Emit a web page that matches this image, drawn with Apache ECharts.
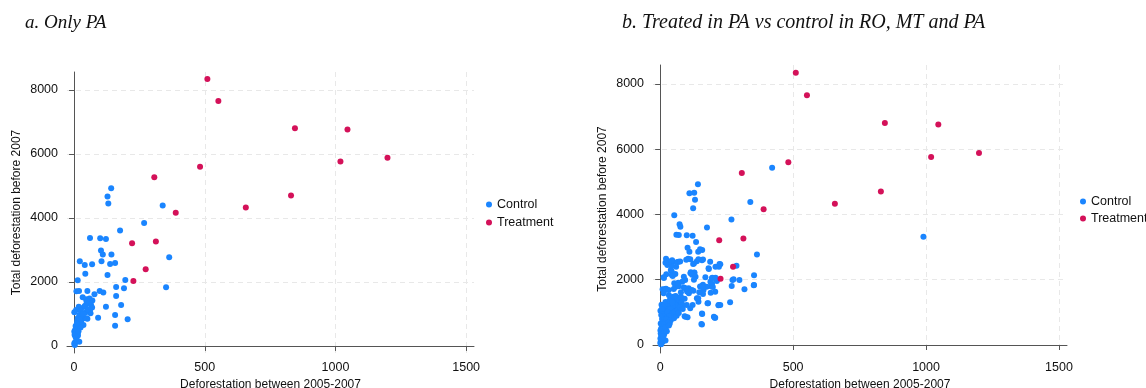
<!DOCTYPE html>
<html>
<head>
<meta charset="utf-8">
<script src="https://cdn.jsdelivr.net/npm/echarts@6/dist/echarts.min.js"></script>
<style>html,body{margin:0;padding:0;background:#fff}#c{width:1146px;height:388px}</style>
</head>
<body>
<div id="c"></div>
<script>
// ---- data (x: deforestation 2005-2007, y: total deforestation before 2007) ----
const titleA = 'a. Only PA';
const titleB = 'b. Treated in PA vs control in RO, MT and PA';
const xName = 'Deforestation between 2005-2007';
const yName = 'Total deforestation before 2007';
const seriesNames = ['Control', 'Treatment'];
const xTicks = [0, 500, 1000, 1500];
const yTicks = [0, 2000, 4000, 6000, 8000];

const treatment = [
  [510,8340],[552,7650],[845,6800],[1046,6760],[1019,5760],[1199,5880],[482,5600],
  [307,5270],[830,4700],[657,4330],[389,4160],[313,3260],[222,3210],[274,2400],[227,2030]
];

const controlPA = [
  [142,4927],[128,4667],[131,4448],[339,4385],[268,3844],[176,3604],[61,3375],[100,3365],
  [122,3344],[103,2979],[110,2854],[143,2860],[105,2646],[22,2646],[41,2526],[69,2550],
  [138,2563],[157,2594],[364,2771],[128,2219],[43,2260],[14,2052],[196,2063],[161,1844],
  [191,1802],[352,1833],[98,1719],[112,1667],[78,1615],[51,1719],[9,1708],[19,1719],
  [161,1562],[180,1276],[122,1224],[92,880],[157,969],[205,833],[157,630],
  [33,1521],[46,1458],[59,1479],[52,1333],[65,1281],[40,1229],[27,1177],[18,1229],
  [8,1125],[1,1050],[69,1200],[61,1125],[63,1021],[20,969],[14,865],[40,865],[48,865],
  [27,760],[20,656],[8,552],[1,448],[14,396],[5,292],[10,188],[2,104],[20,135],[3,31],
  [36,656],[51,854],[26,1104],[42,1260],[55,1400],[70,1420],[45,1050],[30,950],[12,780],
  [6,620],[4,500],[2,350],[8,240],[1,60],[15,330],[25,580],[35,1000],[60,1340],[53,1150],
  [48,1380],[22,820],[11,700],[17,460]
];

const controlOther = [
  [421,5434],[110,4648],[124,4188],[53,3973],[73,3698],[76,3626],[70,3371],[135,3156],
  [150,2932],[158,2911],[144,2625],[113,2625],[98,2610],[25,2560],[38,2560],[48,2540],
  [65,2540],[75,2560],[23,2165],[13,2074],[188,2554],[223,2482],[221,2400],[287,2431],
  [226,2472],[182,2349],[129,2217],[115,2227],[40,2298],[44,2145],[53,1890],[94,1992],
  [68,1910],[83,1941],[19,1685],[13,1583],[107,1736],[119,1685],[147,1614],[163,1685],
  [157,1808],[175,1787],[195,2043],[213,1961],[276,2012],[298,1992],[272,1992],[269,1808],
  [207,1634],[317,1706],[353,2134],[353,1839],[263,1307],[219,1216],[178,1277],[158,950],
  [207,838],[95,868],[103,848],[113,1124],[81,1175],[100,1226],[138,1430],[144,1328],
  [226,1226],[990,3320],[208,2400],[183,2330],[47,2114],[57,2176],[89,2094],[114,2196],
  [120,2155],[133,2094],[127,2000],[170,2074],[189,1941],[208,2063],[195,1880],[198,1777],
  [22,1726],[32,1685],[57,1780],[70,1800],[89,1760],[95,1736],[101,1640],[108,1583],
  [125,1660],[150,1790],[160,1760],[190,1600],[143,1430],[220,1226],[202,869],[155,644],
  [161,2620],[124,2480],[127,2500],[60,2400],[27,2450],[43,2420],[45,2600],[33,2550],[20,2520],
  [2,50],[4,120],[1,200],[6,280],[3,360],[8,420],[5,520],[10,600],[2,660],[12,720],[7,800],
  [15,860],[4,920],[18,980],[9,1040],[22,1100],[14,1160],[26,1220],[5,1230],[30,1280],
  [20,1320],[35,1360],[42,1420],[50,1480],[58,1500],[65,1450],[72,1380],[80,1300],[86,1220],
  [60,1200],[48,1180],[38,1100],[28,1000],[44,960],[55,1020],[66,1080],[75,1160],[34,880],
  [24,780],[40,760],[52,820],[16,640],[30,680],[10,480],[20,540],[14,380],[6,160],[12,260],
  [9,90],[3,20],[25,420],[33,600],[62,900],[70,980],[85,1100],[45,1300],[92,1420],[78,1480],
  [18,1250],[11,1180],[7,1100]
];

const controlAll = controlPA.concat(controlOther);

// ---- chart ----
const BLUE = '#1A85FF', RED = '#D41159';
const chart = echarts.init(document.getElementById('c'), null, {renderer: 'canvas'});
const labelFont = {fontFamily: 'Arial, "Liberation Sans", sans-serif', color: '#111'};
const plain = v => String(v);

function xAxis(gi) {
  return {
    type: 'value', gridIndex: gi, min: -27, max: 1530,
    name: xName, nameLocation: 'middle', nameGap: 24,
    nameTextStyle: Object.assign({fontSize: 12}, labelFont),
    axisLine: {show: true, lineStyle: {color: '#555', width: 1}},
    axisTick: {show: true, length: 5, lineStyle: {color: '#555'}, customValues: xTicks},
    axisLabel: Object.assign({fontSize: 12.5, margin: 8, customValues: xTicks, formatter: plain}, labelFont),
    splitLine: {show: true, lineStyle: {color: '#e8e8e8', type: [5, 4]}}
  };
}
function yAxis(gi, mn, mx) {
  return {
    type: 'value', gridIndex: gi, min: mn, max: mx,
    name: yName, nameLocation: 'middle', nameGap: 44,
    nameTextStyle: Object.assign({fontSize: 12}, labelFont),
    axisLine: {show: true, lineStyle: {color: '#555', width: 1}},
    axisTick: {show: true, length: 5, lineStyle: {color: '#555'}, customValues: yTicks},
    axisLabel: Object.assign({fontSize: 12.5, margin: 9, customValues: yTicks, formatter: plain}, labelFont),
    splitLine: {show: true, lineStyle: {color: '#e8e8e8', type: [5, 4]}}
  };
}

const titleStyle = {fontFamily: '"Liberation Serif", "Times New Roman", serif', fontStyle: 'italic', fontWeight: 'normal', fontSize: 19, color: '#111'};

chart.setOption({
  animation: false,
  title: [
    {text: titleA, left: 20, top: 8, textStyle: titleStyle},
    {text: titleB, left: 617, top: 8, textStyle: Object.assign({}, titleStyle, {fontSize: 20})}
  ],
  legend: [
    {orient: 'vertical', left: 481, top: 193, itemWidth: 6, itemHeight: 6, itemGap: 5, icon: 'circle',
     data: seriesNames, textStyle: Object.assign({fontSize: 12.5, lineHeight: 12}, labelFont),
     selectedMode: false},
    {orient: 'vertical', left: 1075, top: 190, itemWidth: 6, itemHeight: 6, itemGap: 4, icon: 'circle',
     data: seriesNames, textStyle: Object.assign({fontSize: 12.5, lineHeight: 12}, labelFont),
     selectedMode: false}
  ],
  grid: [
    {left: 67, top: 72, width: 407, height: 281, outerBoundsMode: 'none', containLabel: false},
    {left: 653, top: 65, width: 414, height: 288, outerBoundsMode: 'none', containLabel: false}
  ],
  xAxis: [xAxis(0), xAxis(1)],
  yAxis: [yAxis(0, -220, 8560), yAxis(1, -245, 8580)],
  series: [
    {name: 'Control', type: 'scatter', xAxisIndex: 0, yAxisIndex: 0, data: controlPA,
     symbolSize: 6, itemStyle: {color: BLUE, opacity: 1}},
    {name: 'Treatment', type: 'scatter', xAxisIndex: 0, yAxisIndex: 0, data: treatment,
     symbolSize: 6, itemStyle: {color: RED, opacity: 1}},
    {name: 'Control', type: 'scatter', xAxisIndex: 1, yAxisIndex: 1, data: controlAll,
     symbolSize: 6, itemStyle: {color: BLUE, opacity: 1}},
    {name: 'Treatment', type: 'scatter', xAxisIndex: 1, yAxisIndex: 1, data: treatment,
     symbolSize: 6, itemStyle: {color: RED, opacity: 1}}
  ]
});
</script>
</body>
</html>
